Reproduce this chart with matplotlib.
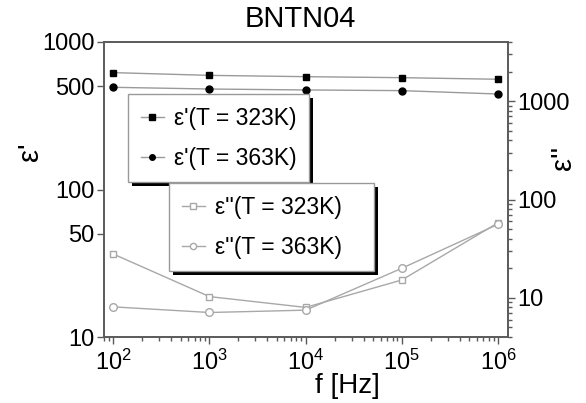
import matplotlib
matplotlib.use("Agg")
import matplotlib.pyplot as plt
from matplotlib.patches import Rectangle
from matplotlib.ticker import FixedLocator, NullLocator, LogLocator, NullFormatter, FixedFormatter

plt.rcParams['font.family'] = ['Liberation Sans', 'DejaVu Sans']
plt.rcParams['mathtext.fontset'] = 'custom'
plt.rcParams['mathtext.rm'] = 'Liberation Sans'
plt.rcParams['mathtext.it'] = 'Liberation Sans:italic'

freq = [1e2, 1e3, 1e4, 1e5, 1e6]
eps1_323 = [620, 594, 582, 573, 559]
eps1_363 = [493, 480, 473, 468, 444]
eps2_323 = [27.9, 10.3, 8.0, 15.2, 58]
eps2_363 = [8.1, 7.1, 7.5, 20, 56]

left_ticks = [10, 50, 100, 500, 1000]
left_labels = ['10', '50', '100', '500', '1000']
right_ticks = [10, 100, 1000]
right_labels = ['10', '100', '1000']
x_ticks = [1e2, 1e3, 1e4, 1e5, 1e6]
x_labels = [r'$10^{2}$', r'$10^{3}$', r'$10^{4}$', r'$10^{5}$', r'$10^{6}$']

W, H = 586, 403
fig = plt.figure(figsize=(W / 100, H / 100), dpi=100)
ax = fig.add_axes([104 / W, 1 - 337 / H, (508 - 104) / W, (337 - 42) / H])
ax2 = ax.twinx()

line_c = '#9a9a9a'
light = '#a8a8a8'
spine_c = '#5a5a5a'

l1, = ax.plot(freq, eps1_323, '-', color=line_c, lw=1, marker='s', ms=4.5,
              mfc='black', mec='black', label="ε'(T = 323K)")
l2, = ax.plot(freq, eps1_363, '-', color=line_c, lw=1, marker='o', ms=5,
              mfc='black', mec='black', label="ε'(T = 363K)")
l3, = ax2.plot(freq, eps2_323, '-', color=light, lw=1, marker='s', ms=5,
               mfc='white', mec=light, mew=1, label="ε''(T = 323K)")
l4, = ax2.plot(freq, eps2_363, '-', color=light, lw=1, marker='o', ms=5.5,
               mfc='white', mec=light, mew=1, label="ε''(T = 363K)")

ax.set_xscale('log')
ax.set_yscale('log')
ax2.set_yscale('log')
ax.set_xlim(80, 1.27e6)
ax.set_ylim(10, 1000)
ax2.set_ylim(4, 4000)

ax.yaxis.set_major_locator(FixedLocator(left_ticks))
ax.yaxis.set_major_formatter(FixedFormatter(left_labels))
ax.yaxis.set_minor_locator(NullLocator())
ax2.yaxis.set_major_locator(FixedLocator(right_ticks))
ax2.yaxis.set_major_formatter(FixedFormatter(right_labels))
ax2.yaxis.set_minor_locator(LogLocator(base=10, subs=range(2, 10)))
ax2.yaxis.set_minor_formatter(NullFormatter())
ax.xaxis.set_major_locator(FixedLocator(x_ticks))
ax.xaxis.set_major_formatter(FixedFormatter(x_labels))
ax.xaxis.set_minor_locator(LogLocator(base=10, subs=range(2, 10)))
ax.xaxis.set_minor_formatter(NullFormatter())

for a in (ax, ax2):
    for s in a.spines.values():
        s.set_color(spine_c)
        s.set_linewidth(1.2)
    a.tick_params(which='major', direction='out', length=5, width=1,
                  color=spine_c, labelsize=17, labelcolor='black', pad=2)
    a.tick_params(which='minor', direction='out', length=3, width=1, color=spine_c)
ax.tick_params(axis='x', which='major', pad=4)

fig.text(300 / W, 1 - 19 / H, 'BNTN04', fontsize=21, ha='center', va='center')
fig.text(347 / W, 1 - 386 / H, 'f [Hz]', fontsize=20, ha='center', va='center')
fig.text(30 / W, 1 - 152 / H, "ε'", fontsize=21, ha='center', va='center', rotation=90)
fig.text(563 / W, 1 - 158 / H, "ε''", fontsize=21, ha='center', va='center', rotation=90)

leg_kw = dict(loc='upper left', fontsize=16.5, frameon=True, fancybox=False,
              borderaxespad=0,
              handlelength=1.0, handletextpad=0.45, labelspacing=0.75,
              borderpad=0.55, edgecolor='#999999', framealpha=1)
leg1 = fig.legend(handles=[l1, l2], labels=["ε'(T = 323K)", "ε'(T = 363K)"],
                  bbox_to_anchor=(128 / W, 1 - 94 / H), **leg_kw)
leg2 = fig.legend(handles=[l3, l4], labels=["ε''(T = 323K)   ", "ε''(T = 363K)   "],
                  bbox_to_anchor=(169 / W, 1 - 183 / H), **leg_kw)
for lg in (leg1, leg2):
    lg.get_frame().set_linewidth(1)
    lg.set_zorder(6)
for h in leg1.legend_handles:
    h.set_markersize(4)
for h in leg2.legend_handles:
    h.set_markersize(4.5)

# drop shadows (solid black, offset right/down)
fig.canvas.draw()
r = fig.canvas.get_renderer()
for lg in (leg1, leg2):
    bb = lg.get_frame().get_window_extent(r)
    off = 4
    fig.patches.append(Rectangle(((bb.x0 + off) / W, (bb.y0 - off) / H),
                                 bb.width / W, bb.height / H,
                                 transform=fig.transFigure, facecolor='black',
                                 edgecolor='none', zorder=5.5))

fig.savefig('out.png', dpi=100)
